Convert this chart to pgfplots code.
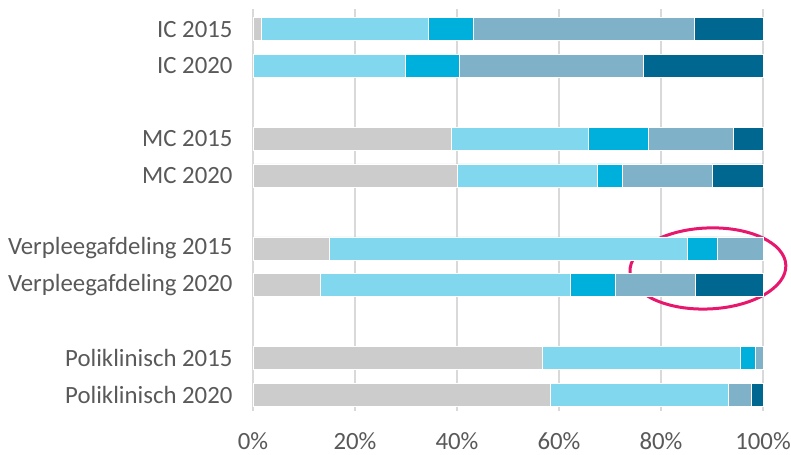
\documentclass[border=0pt]{standalone}
\usepackage{pgfplots}
\usepackage{pgfplotstable}
\pgfplotsset{compat=1.18}
\usepackage{fontspec}
\setmainfont{Carlito}
\definecolor{cgray}{HTML}{CCCCCC}
\definecolor{clblue}{HTML}{80D7EE}
\definecolor{cblue}{HTML}{00B0DC}
\definecolor{cgblue}{HTML}{7FB2C8}
\definecolor{cdark}{HTML}{006890}
\definecolor{ctext}{HTML}{595959}
\definecolor{cgrid}{HTML}{D9D9D9}
\definecolor{cpink}{HTML}{E8176E}
\pgfplotstableread{
y a b c d e
10 1.6 32.8 8.8 43.4 13.4
9 0 29.8 10.6 36.2 23.4
7 38.8 26.9 11.8 16.6 5.9
6 40.0 27.5 4.9 17.6 10.0
4 14.9 70.2 5.9 9.0 0
3 13.2 49.0 8.8 15.7 13.3
1 56.7 38.8 2.9 1.6 0
0 58.2 34.9 0 4.6 2.3
}\datatable
\begin{document}
\begin{tikzpicture}
\useasboundingbox (-253bp,-44bp) rectangle (538bp,411bp);
\begin{axis}[
  at={(0,0)}, anchor=south west,
  scale only axis, width=510bp, height=402bp,
  xbar stacked, bar width=0.63,
  xmin=0, xmax=100, ymin=-0.45, ymax=10.55,
  xtick={0,20,...,100},
  xticklabels={0\%,20\%,40\%,60\%,80\%,100\%},
  ytick={0,1,3,4,6,7,9,10},
  yticklabels={Poliklinisch 2020,Poliklinisch 2015,Verpleegafdeling 2020,Verpleegafdeling 2015,MC 2020,MC 2015,IC 2020,IC 2015},
  major tick length=0pt,
  axis line style={draw=none},
  xmajorgrids, grid style={color=cgrid, line width=1.2bp},
  tick label style={font=\fontsize{24.8bp}{27bp}\selectfont, text=ctext},
  /pgf/number format/assume math mode=true,
  yticklabel style={xshift=-17bp},
  xticklabel style={inner sep=0pt, yshift=-21bp},
  clip=false,
  every axis plot/.append style={draw=white, line width=0.4bp},
]
\addplot[fill=cgray, draw=white] table[x=a, y=y] {\datatable};
\addplot[fill=clblue, draw=white] table[x=b, y=y] {\datatable};
\addplot[fill=cblue, draw=white] table[x=c, y=y] {\datatable};
\addplot[fill=cgblue, draw=white] table[x=d, y=y] {\datatable};
\addplot[fill=cdark, draw=white] table[x=e, y=y] {\datatable};
\draw[cpink, line width=3bp, rotate around={2.5:(axis cs:89.2,3.45)}] (axis cs:89.2,3.45) ellipse [x radius=78bp, y radius=40.5bp];
\end{axis}
\end{tikzpicture}
\end{document}
